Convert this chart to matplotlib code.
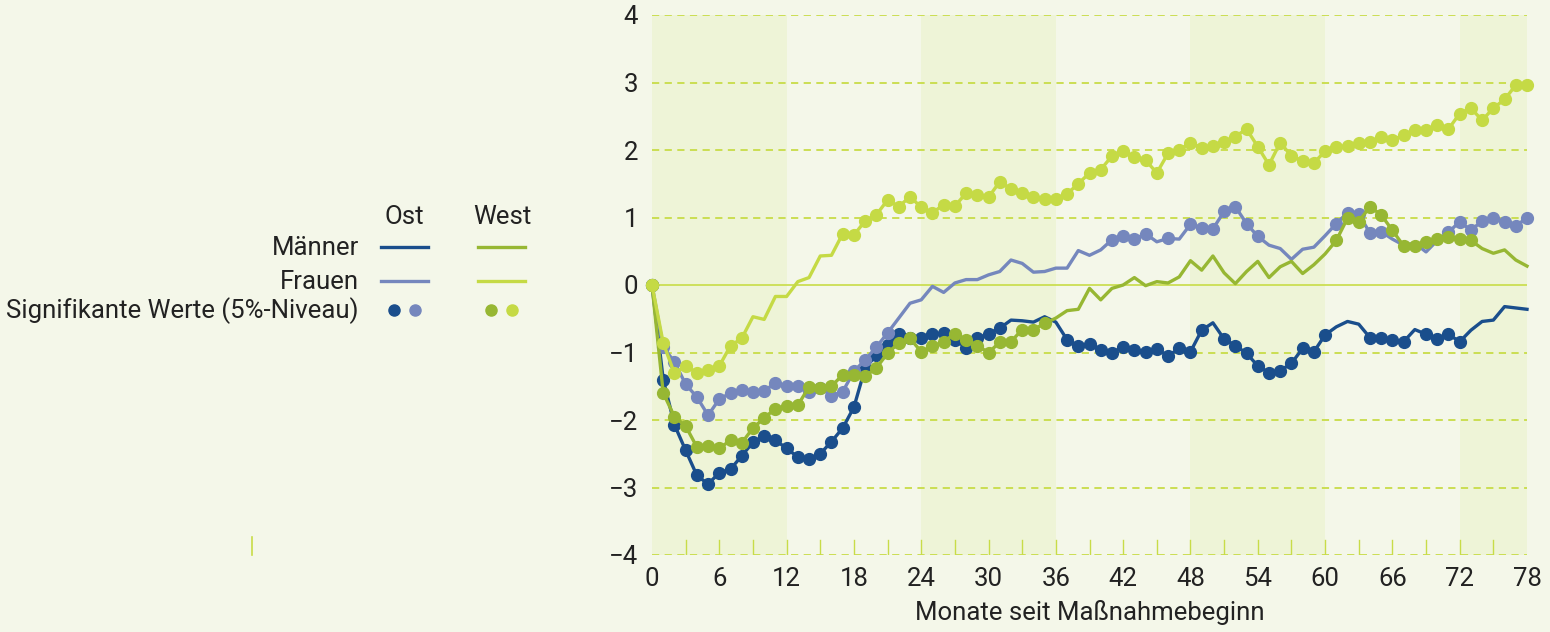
import numpy as np
import matplotlib
matplotlib.use("Agg")
import matplotlib.pyplot as plt
from matplotlib.lines import Line2D

# Monate 0..78, Effekt in Prozentpunkten
months = np.arange(79)

ost_maenner = [
    0, -1.40, -2.07, -2.45, -2.82, -2.95, -2.78, -2.73, -2.53, -2.33,
    -2.24, -2.30, -2.42, -2.55, -2.58, -2.50, -2.32, -2.12, -1.81, -1.23,
    -1.04, -0.89, -0.72, -0.78, -0.79, -0.73, -0.71, -0.81, -0.93, -0.79,
    -0.72, -0.64, -0.52, -0.53, -0.55, -0.47, -0.55, -0.81, -0.91, -0.87,
    -0.97, -1.00, -0.92, -0.96, -0.99, -0.95, -1.05, -0.94, -0.99, -0.67,
    -0.56, -0.80, -0.90, -1.01, -1.20, -1.30, -1.27, -1.16, -0.94, -0.99,
    -0.74, -0.62, -0.54, -0.58, -0.78, -0.79, -0.82, -0.84, -0.66, -0.73,
    -0.80, -0.73, -0.84, -0.67, -0.54, -0.52, -0.32, -0.34, -0.36]
ost_frauen = [
    0, -0.92, -1.14, -1.47, -1.66, -1.93, -1.69, -1.60, -1.55, -1.59,
    -1.57, -1.45, -1.50, -1.50, -1.58, -1.52, -1.64, -1.58, -1.28, -1.11,
    -0.92, -0.71, -0.49, -0.27, -0.22, -0.02, -0.11, 0.03, 0.08, 0.08,
    0.15, 0.20, 0.37, 0.32, 0.19, 0.20, 0.25, 0.25, 0.51, 0.44,
    0.52, 0.67, 0.73, 0.68, 0.76, 0.64, 0.69, 0.68, 0.90, 0.85,
    0.83, 1.09, 1.16, 0.91, 0.72, 0.59, 0.54, 0.38, 0.53, 0.56,
    0.73, 0.91, 1.07, 1.05, 0.77, 0.79, 0.68, 0.59, 0.62, 0.49,
    0.66, 0.78, 0.94, 0.81, 0.95, 0.99, 0.94, 0.87, 1.00]
west_maenner = [
    0, -1.60, -1.95, -2.09, -2.40, -2.39, -2.42, -2.30, -2.34, -2.12,
    -1.97, -1.83, -1.79, -1.78, -1.51, -1.52, -1.50, -1.33, -1.33, -1.35,
    -1.23, -1.01, -0.86, -0.79, -0.99, -0.91, -0.84, -0.72, -0.81, -0.90,
    -1.00, -0.85, -0.84, -0.66, -0.66, -0.57, -0.49, -0.38, -0.36, -0.05,
    -0.22, -0.05, 0.00, 0.11, -0.01, 0.05, 0.03, 0.12, 0.36, 0.22,
    0.43, 0.18, 0.02, 0.20, 0.35, 0.11, 0.27, 0.35, 0.17, 0.30,
    0.46, 0.66, 0.99, 0.94, 1.16, 1.04, 0.81, 0.58, 0.58, 0.63,
    0.68, 0.71, 0.68, 0.66, 0.54, 0.47, 0.52, 0.37, 0.28]
west_frauen = [
    0, -0.86, -1.31, -1.20, -1.30, -1.26, -1.20, -0.90, -0.79, -0.47,
    -0.51, -0.17, -0.17, 0.05, 0.11, 0.43, 0.44, 0.76, 0.74, 0.95,
    1.04, 1.26, 1.16, 1.31, 1.15, 1.07, 1.19, 1.17, 1.36, 1.33,
    1.30, 1.53, 1.42, 1.36, 1.31, 1.28, 1.27, 1.35, 1.50, 1.66,
    1.71, 1.91, 1.98, 1.90, 1.85, 1.66, 1.95, 2.00, 2.11, 2.03,
    2.06, 2.12, 2.20, 2.31, 2.05, 1.78, 2.11, 1.91, 1.84, 1.81,
    1.98, 2.05, 2.06, 2.11, 2.12, 2.19, 2.15, 2.22, 2.30, 2.30,
    2.37, 2.31, 2.54, 2.62, 2.44, 2.62, 2.75, 2.96, 2.96]

# Monate mit signifikanten Werten (5%-Niveau)
sig_ost_maenner = list(range(0, 32)) + list(range(37, 50)) + list(range(51, 61)) \
    + list(range(64, 68)) + list(range(69, 73))
sig_ost_frauen = list(range(0, 22)) + [41, 42, 43, 44, 46] + list(range(48, 55)) \
    + list(range(61, 66)) + list(range(71, 79))
sig_west_maenner = list(range(0, 36)) + list(range(61, 74))
sig_west_frauen = list(range(0, 9)) + list(range(17, 79))

x_ticks = list(range(0, 79, 6))
y_ticks = list(range(-4, 5))

c_ost_m = '#1a4e8c'
c_ost_f = '#7587bd'
c_west_m = '#97b733'
c_west_f = '#c5da45'
c_grid = '#c8dc48'
bg = '#f4f7e9'
band = '#eef4d7'
txt = '#222222'

plt.rcParams['font.family'] = ['Roboto', 'DejaVu Sans']
fs = 18.5

fig = plt.figure(figsize=(15.5, 6.32), dpi=100, facecolor=bg)
ax = fig.add_axes([652 / 1550, 1 - 555 / 632, 875 / 1550, 540 / 632])
ax.set_facecolor(bg)

# abwechselnde Jahresbänder
for start in range(0, 78, 24):
    ax.axvspan(start, min(start + 12, 78), color=band, lw=0, zorder=0)

for yv in y_ticks:
    if yv == 0:
        ax.axhline(0, color=c_grid, lw=1.2, zorder=1)
    else:
        ax.axhline(yv, color=c_grid, lw=1.3, ls=(0, (4, 3)), zorder=1)

# kleine Striche alle 3 Monate
for m in range(3, 78, 3):
    ax.plot([m, m], [-4, -3.78], color=c_grid, lw=1, zorder=1)

series = [
    (ost_maenner, sig_ost_maenner, c_ost_m),
    (ost_frauen, sig_ost_frauen, c_ost_f),
    (west_maenner, sig_west_maenner, c_west_m),
    (west_frauen, sig_west_frauen, c_west_f),
]
for i, (vals, sig, col) in enumerate(series):
    ax.plot(months, vals, color=col, lw=2.4, marker='o', ms=8.5,
            markevery=sig, mec=col, mfc=col, clip_on=False, zorder=3 + i)

ax.set_xlim(0, 78)
ax.set_ylim(-4, 4)
ax.set_xticks(x_ticks)
ax.set_yticks(y_ticks)
ax.tick_params(length=0, labelsize=fs, colors=txt)
ax.tick_params(axis='y', pad=10)
ax.tick_params(axis='x', pad=9)
for s in ax.spines.values():
    s.set_visible(False)
ax.set_xlabel('Monate seit Maßnahmebeginn', fontsize=fs, color=txt, labelpad=6)


# Legende in Pixelkoordinaten
def fx(px):
    return px / 1550


def fy(py):
    return 1 - py / 632


fig.text(fx(404), fy(217), 'Ost', fontsize=fs, color=txt, ha='center', va='center')
fig.text(fx(502), fy(217), 'West', fontsize=fs, color=txt, ha='center', va='center')
rows = [('Männer', 248), ('Frauen', 282), ('Signifikante Werte (5%-Niveau)', 311)]
for label, py in rows:
    fig.text(fx(359), fy(py), label, fontsize=fs, color=txt, ha='right', va='center')

fig.add_artist(Line2D([fx(381), fx(428)], [fy(247), fy(247)], color=c_ost_m, lw=2.4))
fig.add_artist(Line2D([fx(478), fx(525)], [fy(247), fy(247)], color=c_west_m, lw=2.4))
fig.add_artist(Line2D([fx(381), fx(428)], [fy(281), fy(281)], color=c_ost_f, lw=2.4))
fig.add_artist(Line2D([fx(478), fx(525)], [fy(281), fy(281)], color=c_west_f, lw=2.4))
for px, col in [(394, c_ost_m), (415, c_ost_f), (491, c_west_m), (512, c_west_f)]:
    fig.add_artist(Line2D([fx(px)], [fy(310)], marker='o', ms=8, color=col, lw=0))

# kleiner Strich links unten
fig.add_artist(Line2D([fx(252), fx(252)], [fy(537), fy(555)], color=c_grid, lw=1.2))

fig.savefig('out.png', dpi=100, facecolor=bg)
